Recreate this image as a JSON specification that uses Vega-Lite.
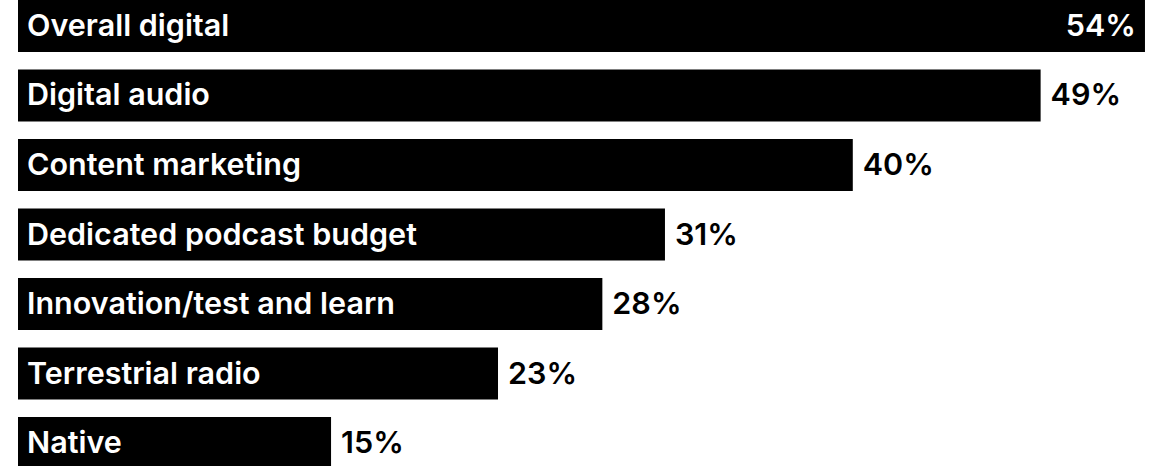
{
  "$schema": "https://vega.github.io/schema/vega-lite/v6.json",
  "width": 1142,
  "height": 469,
  "autosize": {"type": "none"},
  "padding": {"left": 18, "top": 0, "right": 0, "bottom": 0},
  "background": "white",
  "config": {"view": {"stroke": null}},
  "data": {
    "values": [
      {"category": "Overall digital", "value": 54},
      {"category": "Digital audio", "value": 49},
      {"category": "Content marketing", "value": 40},
      {"category": "Dedicated podcast budget", "value": 31},
      {"category": "Innovation/test and learn", "value": 28},
      {"category": "Terrestrial radio", "value": 23},
      {"category": "Native", "value": 15}
    ]
  },
  "encoding": {
    "y": {
      "field": "category",
      "type": "nominal",
      "sort": null,
      "axis": null,
      "scale": {"paddingInner": 0.2518, "paddingOuter": 0}
    },
    "x": {
      "field": "value",
      "type": "quantitative",
      "axis": null,
      "scale": {"domain": [0, 54.72], "nice": false, "zero": true}
    }
  },
  "layer": [
    {"mark": {"type": "bar", "color": "black", "cornerRadius": 0}},
    {
      "mark": {"type": "text", "align": "left", "baseline": "middle", "dx": 9, "dy": 1, "color": "white", "font": "Inter", "fontWeight": 600, "fontSize": 30.5},
      "encoding": {"x": {"datum": 0}, "text": {"field": "category"}}
    },
    {
      "transform": [{"filter": "datum.category !== 'Overall digital'"}, {"calculate": "datum.value + '%'", "as": "label"}],
      "mark": {"type": "text", "align": "left", "baseline": "middle", "dx": 10, "dy": 1, "color": "black", "font": "Inter", "fontWeight": 600, "fontSize": 30.5},
      "encoding": {"text": {"field": "label"}}
    },
    {
      "transform": [{"filter": "datum.category === 'Overall digital'"}, {"calculate": "datum.value + '%'", "as": "label"}],
      "mark": {"type": "text", "align": "right", "baseline": "middle", "dx": -9, "dy": 1, "color": "white", "font": "Inter", "fontWeight": 600, "fontSize": 30.5},
      "encoding": {"text": {"field": "label"}}
    }
  ]
}
